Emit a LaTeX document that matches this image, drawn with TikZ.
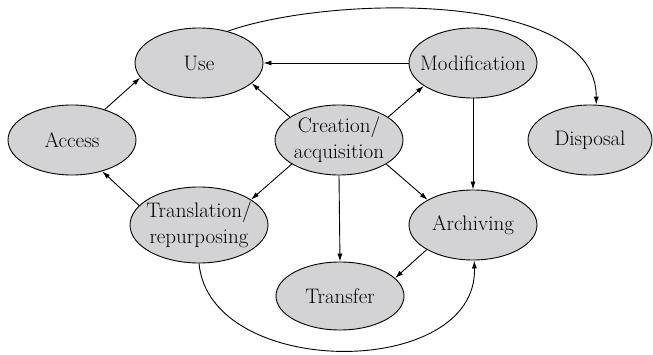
\documentclass[tikz,border=0pt]{standalone}
\usepackage{fontspec}
\usetikzlibrary{shapes.geometric,arrows.meta}
\definecolor{nodegray}{RGB}{211,211,213}
\tikzset{
  stage/.style={ellipse, draw=black, line width=0.9pt, fill=nodegray, inner sep=0pt,
    minimum width=128pt, minimum height=70pt},
  stagetext/.style={align=center, inner sep=0pt, font=\rmfamily\fontsize{21}{26}\selectfont},
  flow/.style={line width=0.9pt, -{Latex[length=8pt,width=5pt]}}
}
\begin{document}
\begin{tikzpicture}[x=1pt,y=-1pt]
\useasboundingbox (0,0) rectangle (653,355);
\node[stage, label={[stagetext]center:Use}] (use) at (199,63) {};
\node[stage, label={[stagetext]center:Modification}] (mod) at (473,63) {};
\node[stage, label={[stagetext]center:Access}] (acc) at (72,140) {};
\node[stage, label={[stagetext]center:Creation/\\acquisition}] (cre) at (339,140) {};
\node[stage, minimum width=124pt, label={[stagetext]center:Disposal}] (disp) at (590,140) {};
\node[stage, minimum width=138pt, minimum height=76pt, label={[stagetext]center:Translation/\\repurposing}] (trl) at (199,225) {};
\node[stage, label={[stagetext]center:Archiving}] (arch) at (473,225) {};
\node[stage, minimum height=68pt, label={[stagetext]center:Transfer}] (tra) at (340,296) {};

\draw[flow] (acc.43) -- (use.194);
\draw[flow] (mod.west) -- (use.east);
\draw[flow] (cre.155) -- (use.339);
\draw[flow] (cre.25) -- (mod.205);
\draw[flow] (cre.207) -- (trl.26);
\draw[flow] (cre.south) -- (tra.north);
\draw[flow] (cre.333) -- (arch.151);
\draw[flow] (mod.south) -- (arch.north);
\draw[flow] (arch.208) -- (tra.18);
\draw[flow] (trl.162) -- (acc.314);
\draw[flow] (use.48) .. controls (330,-5) and (597,-10) .. (disp.80);
\draw[flow] (trl.south) .. controls (210,380) and (478,380) .. (arch.272);
\end{tikzpicture}
\end{document}
